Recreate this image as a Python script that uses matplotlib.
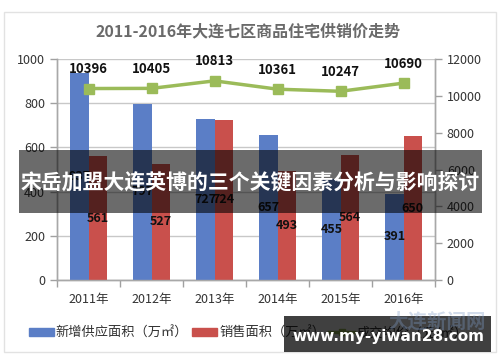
import matplotlib
matplotlib.use("Agg")
import matplotlib.pyplot as plt
from matplotlib.patches import Rectangle
from matplotlib.lines import Line2D
from matplotlib.patches import Patch

plt.rcParams['font.family'] = ['Noto Sans CJK SC', 'DejaVu Sans']

years = ["2011年", "2012年", "2013年", "2014年", "2015年", "2016年"]
supply = [937, 797, 727, 657, 455, 391]
sales = [561, 527, 724, 493, 564, 650]
price = [10396, 10405, 10813, 10361, 10247, 10690]

title = "2011-2016年大连七区商品住宅供销价走势"
legend_labels = ["新增供应面积（万㎡）", "销售面积（万㎡）", "成交均价（元/㎡）"]
banner = "宋岳加盟大连英博的三个关键因素分析与影响探讨"
watermark = "www.my-yiwan28.com"

blue = "#5B7EC6"
red = "#C9504C"
green = "#9BBB59"
txt = "#333333"

fig = plt.figure(figsize=(5.0, 3.62), dpi=100)
W, H = 500, 362
ax = fig.add_axes([57 / W, 1 - 280 / H, (435 - 57) / W, (280 - 59) / H])
ax2 = ax.twinx()

x = list(range(len(years)))
bw = 0.29
xb = [i - bw / 2 for i in x]
xr = [i + bw / 2 for i in x]
ax.bar(xb, supply, bw, color=blue, zorder=3)
ax.bar(xr, sales, bw, color=red, zorder=3)
for xi, v in zip(xb, supply):
    ax.text(xi, v / 2, str(v), ha='center', va='center', fontsize=9,
            fontweight='bold', color='#111111', zorder=4)
for xi, v in zip(xr, sales):
    ax.text(xi, v / 2, str(v), ha='center', va='center', fontsize=9,
            fontweight='bold', color='#111111', zorder=4)

ax.set_xlim(-0.5, 5.5)
ax.set_ylim(0, 1000)
ax.set_yticks(range(0, 1001, 200))
ax.yaxis.grid(True, color='#C8C8C8', linewidth=1.0, zorder=0)
ax.set_axisbelow(True)
ax.set_xticks(x)
ax.set_xticklabels(years, fontsize=9, color=txt)
ax.set_xticks([i - 0.5 for i in range(7)], minor=True)
ax.tick_params(axis='x', which='major', length=0, pad=9)
ax.tick_params(axis='x', which='minor', length=5, color='#A0A0A0', width=1)
ax.tick_params(axis='y', labelsize=9, colors=txt, length=5, width=1)
ax.tick_params(axis='y', color='#A0A0A0')

ax2.plot(x, price, color=green, linewidth=2.5, marker='s', markersize=7,
         zorder=5)
for xi, v in zip(x, price):
    ax2.annotate(str(v), (xi, v), xytext=(0, 14), textcoords='offset points',
                 ha='center', va='center', fontsize=9.5, fontweight='bold',
                 color='#111111')
ax2.set_ylim(0, 12000)
ax2.set_yticks(range(0, 12001, 2000))
ax2.tick_params(axis='y', labelsize=9, colors=txt, length=5, width=1)
ax2.tick_params(axis='y', color='#A0A0A0')

for a in (ax, ax2):
    a.spines['top'].set_visible(False)
    for s in ('left', 'right', 'bottom'):
        a.spines[s].set_color('#A8A8A8')
        a.spines[s].set_linewidth(1.0)

fig.text(248 / W, 1 - 31 / H, title, ha='center', va='center', fontsize=11.5,
         fontweight='bold', color='#6A6A6A')

handles = [Patch(color=blue), Patch(color=red),
           Line2D([0], [0], color=green, lw=2.5, marker='s', markersize=5)]
fig.legend(handles, legend_labels, loc='center left',
           bbox_to_anchor=(26 / W, 1 - 333 / H),
           ncol=3, frameon=False, fontsize=9.5, handlelength=1.9, handleheight=0.6,
           columnspacing=0.3, handletextpad=0.15, labelcolor=txt,
           borderaxespad=0, borderpad=0.2)

# chart border
fig.patches.append(Rectangle((4 / W, 1 - 352 / H), 492 / W, 340 / H,
                             transform=fig.transFigure, fill=False,
                             edgecolor='#E2E2E2', linewidth=1))

# banner overlay
fig.patches.append(Rectangle((19 / W, 1 - 213 / H), (482 - 19) / W, (213 - 150) / H,
                             transform=fig.transFigure, facecolor='black',
                             alpha=0.58, edgecolor='none', zorder=10))
fig.text(250 / W, 1 - 183 / H, banner, ha='center', va='center', fontsize=15,
         fontweight='bold', color='white', zorder=11)

# watermark
fig.patches.append(Rectangle((284 / W, 1 - 352 / H), (491 - 284) / W, (352 - 316) / H,
                             transform=fig.transFigure, facecolor='black',
                             alpha=0.75, edgecolor='none', zorder=10))
fig.text(486 / W, 1 - 322 / H, "大连新闻网", ha='right', va='center', fontsize=14,
         fontweight='bold', color='#7F9CC8', alpha=0.35, zorder=12)
fig.text(388 / W, 1 - 336 / H, watermark, ha='center', va='center', fontsize=11,
         fontweight='bold', color='white', zorder=13, family=['DejaVu Sans'])

fig.savefig("out.png", dpi=100)
